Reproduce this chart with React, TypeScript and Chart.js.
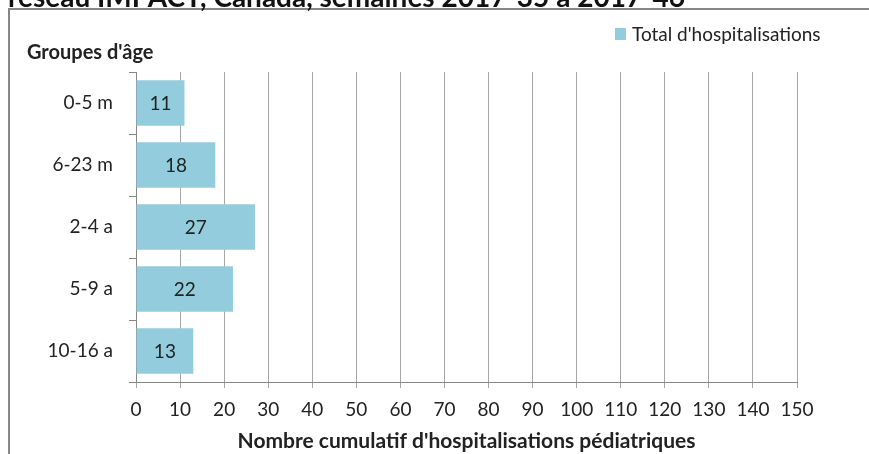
import React, { useEffect, useRef } from "react";
import { Chart, registerables } from "chart.js";

Chart.register(...registerables);

const titleText = "réseau IMPACT, Canada, semaines 2017-35 à 2017-46";
const categories = ["0-5 m", "6-23 m", "2-4 a", "5-9 a", "10-16 a"];
const hospitalisations = [11, 18, 27, 22, 13];
const seriesLabel = "Total d'hospitalisations";
const yAxisTitle = "Groupes d'âge";
const xAxisTitle = "Nombre cumulatif d'hospitalisations pédiatriques";
const xMin = 0;
const xMax = 150;
const xStep = 10;

const FONT = "Lato, 'Open Sans', sans-serif";
const BAR = "#93CDDD";
const TEXT = "#222222";

const overlayPlugin = {
  id: "overlay",
  afterDatasetsDraw(chart: any) {
    const ctx = chart.ctx;
    const meta = chart.getDatasetMeta(0);
    ctx.save();
    ctx.font = `19px ${FONT}`;
    ctx.fillStyle = TEXT;
    ctx.textAlign = "center";
    ctx.textBaseline = "middle";
    meta.data.forEach((bar: any, i: number) => {
      const cx = (bar.x + bar.base) / 2;
      ctx.fillText(String(hospitalisations[i]), cx, bar.y + 1);
    });
    ctx.restore();
  },
  afterDraw(chart: any) {
    const ctx = chart.ctx;
    ctx.save();
    // clipped report title at the very top
    ctx.font = `bold 28px ${FONT}`;
    ctx.fillStyle = "#111111";
    ctx.textAlign = "left";
    ctx.textBaseline = "alphabetic";
    ctx.fillText(titleText, 8, 7);
    // y axis title (horizontal, top-left)
    ctx.font = `bold 20px ${FONT}`;
    ctx.fillStyle = TEXT;
    ctx.textBaseline = "middle";
    ctx.fillText(yAxisTitle, 27, 53);
    // legend
    ctx.fillStyle = BAR;
    ctx.fillRect(615, 28, 11, 12);
    ctx.font = `19px ${FONT}`;
    ctx.fillStyle = TEXT;
    ctx.fillText(seriesLabel, 632, 35);
    ctx.restore();
  },
};

export default function App() {
  const ref = useRef<HTMLCanvasElement | null>(null);

  useEffect(() => {
    if (!ref.current) return;
    const chart = new Chart(ref.current, {
      type: "bar",
      data: {
        labels: categories,
        datasets: [
          {
            label: seriesLabel,
            data: hospitalisations,
            backgroundColor: BAR,
            borderWidth: 0,
            categoryPercentage: 0.73,
            barPercentage: 1,
          },
        ],
      },
      options: {
        indexAxis: "y",
        responsive: false,
        animation: false,
        layout: { padding: { left: 0, top: 72, right: 72, bottom: 0 } },
        plugins: {
          legend: { display: false },
          tooltip: { enabled: false },
          title: { display: false },
        },
        scales: {
          x: {
            type: "linear",
            min: xMin,
            max: xMax,
            afterFit(scale: any) {
              scale.height = 72;
            },
            ticks: {
              stepSize: xStep,
              padding: 10,
              color: TEXT,
              font: { family: FONT, size: 19 },
              maxRotation: 0,
              autoSkip: false,
            },
            grid: {
              color: "#a6a6a6",
              lineWidth: 1,
              drawTicks: true,
              tickLength: 6,
            },
            border: { display: true, color: "#868686", width: 1 },
            title: {
              display: true,
              text: xAxisTitle,
              color: TEXT,
              font: { family: FONT, size: 21, weight: "bold" },
              padding: { top: 0, bottom: 0 },
            },
          },
          y: {
            type: "category",
            afterFit(scale: any) {
              scale.width = 136;
            },
            ticks: {
              padding: 16,
              color: TEXT,
              font: { family: FONT, size: 19 },
            },
            grid: {
              offset: true,
              drawOnChartArea: false,
              drawTicks: true,
              tickLength: 7,
              color: "#868686",
            },
            border: { display: true, color: "#868686", width: 1 },
          },
        },
      },
      plugins: [overlayPlugin],
    } as any);
    return () => chart.destroy();
  }, []);

  return (
    <div
      style={{
        position: "absolute",
        left: 0,
        top: 0,
        width: 869,
        height: 454,
        overflow: "hidden",
        background: "#ffffff",
      }}
    >
      <div
        style={{
          position: "absolute",
          left: 8,
          top: 8,
          width: 900,
          height: 500,
          borderTop: "2px solid #878787",
          borderLeft: "2px solid #878787",
          boxSizing: "border-box",
        }}
      />
      <canvas
        ref={ref}
        width={869}
        height={454}
        style={{ position: "absolute", left: 0, top: 0 }}
      />
    </div>
  );
}
